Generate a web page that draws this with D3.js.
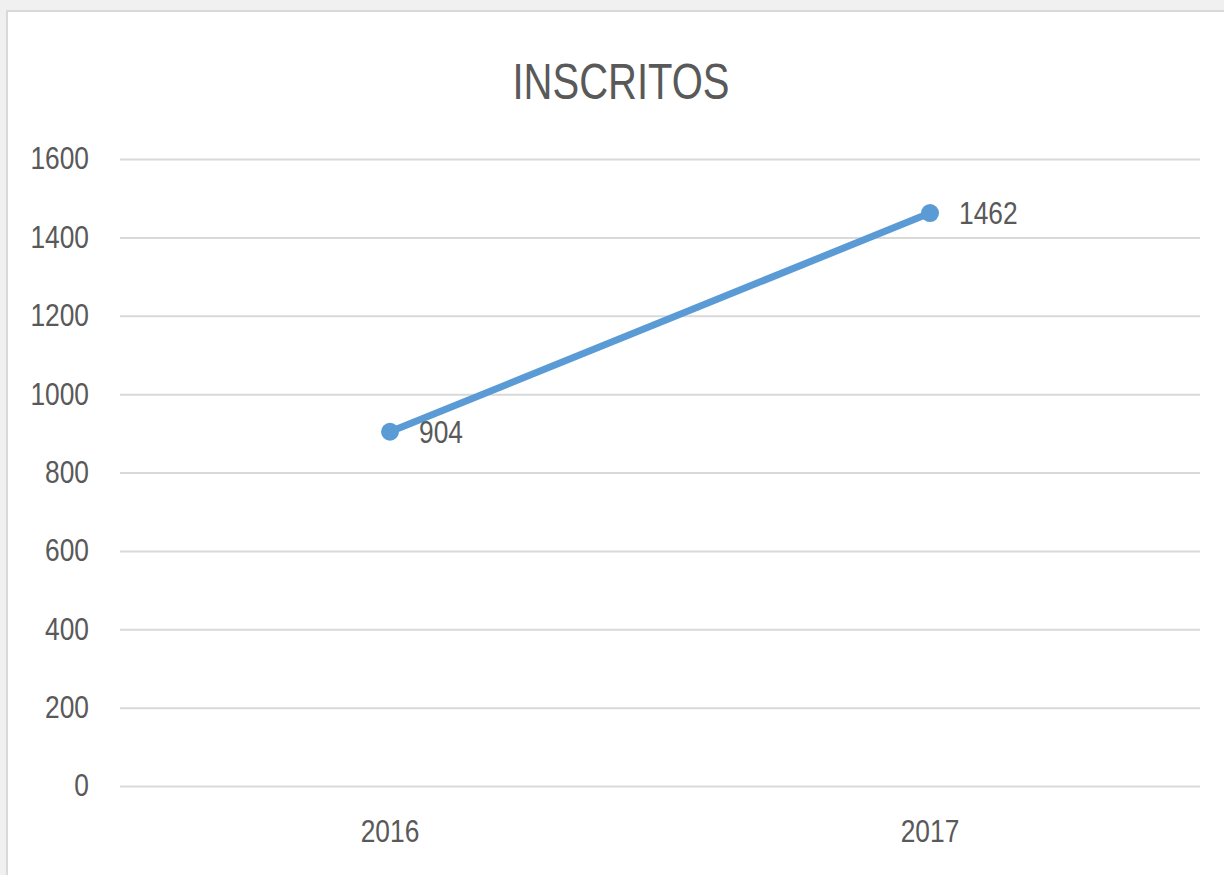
<!DOCTYPE html>
<html>
<head>
<meta charset="utf-8">
<script src="https://cdn.jsdelivr.net/npm/d3@7"></script>
<style>
  body { margin: 0; background: #f0f0f0; }
  text { font-family: "Liberation Sans", Arial, sans-serif; fill: #595959; }
</style>
</head>
<body>
<svg id="chart" width="1224" height="875"></svg>
<script>
// data
const years = ['2016', '2017'];
const inscritos = [904, 1462];
const yTicks = [0, 200, 400, 600, 800, 1000, 1200, 1400, 1600];
const title = 'INSCRITOS';

const svg = d3.select('#chart');
const width = 1224;
const height = 875;
const margin = { top: 159, right: 24, bottom: 89, left: 120 };
const squeeze = 0.85; // the original font is narrow (Calibri-like)

// chart frame
svg.append('rect')
  .attr('x', 7).attr('y', 11)
  .attr('width', width).attr('height', height)
  .attr('fill', '#fff')
  .attr('stroke', '#d9d9d9')
  .attr('stroke-width', 2);

// scales
const x = d3.scaleBand()
  .domain(years)
  .range([margin.left, width - margin.right]);

const y = d3.scaleLinear()
  .domain([0, 1600])
  .range([height - margin.bottom, margin.top]);

// gridlines + y labels
const yAxis = svg.append('g')
  .attr('transform', `translate(${margin.left},0)`)
  .call(d3.axisLeft(y).tickValues(yTicks).tickFormat(d3.format('d'))
    .tickSize(-(width - margin.left - margin.right)));
yAxis.select('.domain').remove();
yAxis.selectAll('line').attr('stroke', '#d9d9d9').attr('stroke-width', 2);
yAxis.selectAll('text')
  .attr('x', 0)
  .attr('transform', `translate(-31,0) scale(${squeeze},1)`)
  .attr('font-size', 31)
  .attr('font-family', null)
  .attr('fill', '#595959');

// x labels
const xAxis = svg.append('g')
  .attr('transform', `translate(0,${height - margin.bottom})`)
  .call(d3.axisBottom(x).tickSize(0).tickPadding(34));
xAxis.select('.domain').remove();
xAxis.selectAll('text')
  .attr('transform', `scale(${squeeze},1)`)
  .attr('font-size', 31)
  .attr('font-family', null)
  .attr('fill', '#595959');

// line
const pts = years.map((d, i) => ({ year: d, value: inscritos[i] }));
const cx = (d) => x(d.year) + x.bandwidth() / 2;
const line = d3.line()
  .x(cx)
  .y((d) => y(d.value));

svg.append('path')
  .datum(pts)
  .attr('fill', 'none')
  .attr('stroke', '#5b9bd5')
  .attr('stroke-width', 7)
  .attr('stroke-linecap', 'round')
  .attr('d', line);

svg.selectAll('.dot')
  .data(pts)
  .join('circle')
  .attr('cx', cx)
  .attr('cy', (d) => y(d.value))
  .attr('r', 9)
  .attr('fill', '#5b9bd5');

// data labels
svg.selectAll('.lbl')
  .data(pts)
  .join('text')
  .attr('transform', (d) => `translate(${cx(d) + 29},${y(d.value)}) scale(${squeeze},1)`)
  .attr('dy', '0.36em')
  .attr('font-size', 31)
  .text((d) => d.value);

// title
svg.append('text')
  .attr('transform', 'translate(621,99) scale(0.8,1)')
  .attr('text-anchor', 'middle')
  .attr('font-size', 50)
  .text(title);
</script>
</body>
</html>
